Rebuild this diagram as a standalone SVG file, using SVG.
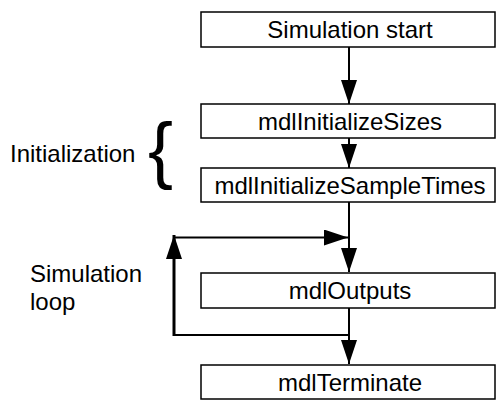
<svg xmlns="http://www.w3.org/2000/svg" width="496" height="400" viewBox="0 0 496 400">
<style>
.box{fill:#fff;stroke:#000;stroke-width:1.5}
.lbl{font-family:"Liberation Sans",Arial,sans-serif;font-size:24px;fill:#000}
.c{text-anchor:middle}
.ln{fill:none;stroke:#000;stroke-width:2}
</style>
<defs>
<marker id="ah" markerUnits="userSpaceOnUse" markerWidth="24" markerHeight="16" refX="24" refY="8" orient="auto" viewBox="0 0 24 16">
<path d="M0,0 L24,8 L0,16 z" fill="#000"/>
</marker>
</defs>
<rect width="496" height="400" fill="#fff"/>
<g id="connectors">
<line class="ln" x1="349" y1="47" x2="349" y2="104" marker-end="url(#ah)"/>
<line class="ln" x1="349" y1="138" x2="349" y2="168" marker-end="url(#ah)"/>
<line class="ln" x1="349" y1="202" x2="349" y2="272" marker-end="url(#ah)"/>
<line class="ln" x1="349" y1="308" x2="349" y2="364" marker-end="url(#ah)"/>
<path class="ln" d="M349,335 L174,335"/>
<path class="ln" style="stroke-width:3" d="M174,336 L174,235" marker-end="url(#ah)"/>
<path class="ln" d="M174,237.5 L348,237.5" marker-end="url(#ah)"/>
</g>
<g id="start"><rect class="box" x="201" y="12" width="294" height="35"/><text class="lbl c" x="350" y="38">Simulation start</text></g>
<g id="sizes"><rect class="box" x="201" y="104" width="294" height="34"/><text class="lbl c" x="350" y="129.5">mdlInitializeSizes</text></g>
<g id="sampletimes"><rect class="box" x="201" y="168" width="294" height="34"/><text class="lbl c" x="350" y="193.5">mdlInitializeSampleTimes</text></g>
<g id="outputs"><rect class="box" x="201" y="273" width="294" height="35"/><text class="lbl c" x="350" y="299">mdlOutputs</text></g>
<g id="terminate"><rect class="box" x="201" y="365" width="294" height="34"/><text class="lbl c" x="350" y="391">mdlTerminate</text></g>
<g id="init-label">
<text class="lbl" x="10" y="162">Initialization</text>
<text x="148" y="174.5" style="font-family:'Liberation Sans',Arial,sans-serif;font-size:75px">{</text>
</g>
<g id="loop-label">
<text class="lbl" x="30" y="282">Simulation</text>
<text class="lbl" x="30" y="310">loop</text>
</g>
</svg>
